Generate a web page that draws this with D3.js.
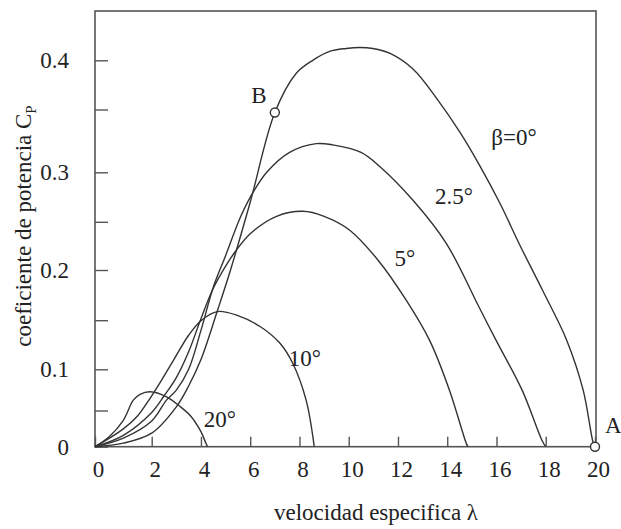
<!DOCTYPE html>
<html><head><meta charset="utf-8">
<script src="https://cdn.jsdelivr.net/npm/d3@7"></script>
<style>
body{margin:0;background:#fff;}
svg{display:block;}
text{font-family:"Liberation Serif","Times New Roman",serif;fill:#222;}
</style></head>
<body><svg id="c" width="621" height="529"></svg>
<script>
const xTicks = [0,2,4,6,8,10,12,14,16,18,20];
const yTicks = [0,0.1,0.2,0.3,0.4];
const yMinorTicks = [0.05,0.15,0.25,0.35];
const seriesNames = ["β=0°","2.5°","5°","10°","20°"];
const beta0 = [[0,0],[1,0.005],[2,0.019],[3,0.055],[3.5,0.08],[4,0.11],[4.67,0.16],[5.2,0.2],[6,0.27],[7,0.348],[7.87,0.387],[8.54,0.40],[9.22,0.409],[9.9,0.412],[10.45,0.413],[10.98,0.412],[11.68,0.407],[12.62,0.391],[13.62,0.36],[14.52,0.332],[15.33,0.305],[16.14,0.269],[16.95,0.226],[17.89,0.179],[18.85,0.13],[19.52,0.075],[19.93,0.005],[20,0]];
const beta25 = [[0,0],[1,0.012],[2,0.036],[2.6,0.063],[3,0.075],[3.5,0.1],[4,0.14],[4.5,0.183],[5,0.215],[5.6,0.255],[6,0.275],[6.67,0.3],[7.6,0.316],[8.68,0.323],[9.35,0.322],[10.5,0.316],[11.27,0.3045],[12.61,0.272],[13.96,0.228],[15.3,0.163],[15.98,0.13],[17.04,0.075],[17.86,0.008],[18,0]];
const beta5 = [[0,0],[1,0.016],[2,0.048],[2.5,0.068],[3,0.09],[3.5,0.118],[4,0.152],[4.5,0.182],[5.07,0.207],[5.33,0.217],[6,0.238],[7.07,0.256],[8.13,0.261],[9,0.256],[10.03,0.242],[11.2,0.21],[12.34,0.17],[13.28,0.13],[14.09,0.075],[14.77,0.005],[14.84,0]];
const beta10 = [[0,0],[1,0.025],[1.5,0.043],[1.9,0.063],[2.4,0.087],[2.9,0.11],[3.5,0.135],[4,0.15],[4.67,0.159],[5.5,0.155],[6.4,0.144],[7.2,0.127],[7.73,0.106],[8.27,0.063],[8.6,0]];
const beta20 = [[0,0],[0.5,0.014],[1,0.037],[1.35,0.063],[1.59,0.07],[1.94,0.073],[2.6,0.067],[3.17,0.055],[3.58,0.043],[4,0.021],[4.2,0.005],[4.27,0]];
const pointsAB = [{name:"A",x:20,y:0},{name:"B",x:7,y:0.348}];
const labelPos = [[16.71,0.322],[14.27,0.268],[12.28,0.204],[8.22,0.103],[4.77,0.028]];

const svg = d3.select("#c");
// the printed axes are slightly non-uniform; polylinear scales follow the printed ticks
const x = d3.scaleLinear().domain([0,2,20]).range([95,151.7,595]);
const y = d3.scaleLinear().domain([0,0.05,0.1,0.15,0.2,0.25,0.3,0.35,0.4,0.45])
  .range([446.7,411,369.3,320.7,270,222.3,172.3,110,60.3,11]);

// frame
svg.append("rect").attr("x",x(0)).attr("y",y(0.45)).attr("width",596-x(0)).attr("height",y(0)-y(0.45))
  .attr("fill","none").attr("stroke","#555").attr("stroke-width",1.6);

// ticks (inside)
const xa = svg.append("g").attr("transform",`translate(0,${y(0)})`)
  .call(d3.axisBottom(x).tickValues(xTicks).tickSizeInner(-10).tickSizeOuter(0).tickPadding(14).tickFormat(d3.format("d")));
xa.select(".domain").remove();
xa.selectAll("line").attr("stroke","#555").attr("stroke-width",1.4);
xa.selectAll("text").attr("font-size",23).attr("fill","#222").attr("font-family","Liberation Serif").attr("dx",3);

const ya = svg.append("g").attr("transform",`translate(${x(0)},0)`)
  .call(d3.axisLeft(y).tickValues(yTicks).tickSizeInner(-13).tickSizeOuter(0).tickPadding(26).tickFormat(d=>d===0?"0":d3.format(".1f")(d)));
ya.select(".domain").remove();
ya.selectAll("line").attr("stroke","#555").attr("stroke-width",1.4);
ya.selectAll("text").attr("font-size",23).attr("fill","#222").attr("font-family","Liberation Serif");
svg.append("g").selectAll("line").data(yMinorTicks).join("line")
  .attr("x1",x(0)).attr("x2",x(0)+13).attr("y1",d=>y(d)).attr("y2",d=>y(d))
  .attr("stroke","#555").attr("stroke-width",1.4);

// curves
const line = d3.line().x(d=>x(d[0])).y(d=>y(d[1])).curve(d3.curveCatmullRom.alpha(0.5));
const allSeries = [beta0,beta25,beta5,beta10,beta20];
svg.append("g").selectAll("path").data(allSeries).join("path")
  .attr("d",line).attr("fill","none").attr("stroke","#333").attr("stroke-width",1.4);

// series labels
svg.append("g").selectAll("text").data(seriesNames).join("text")
  .attr("x",(d,i)=>x(labelPos[i][0])).attr("y",(d,i)=>y(labelPos[i][1]))
  .attr("font-size",23).attr("text-anchor","middle").text(d=>d);

// points A, B
svg.append("g").selectAll("circle").data(pointsAB).join("circle")
  .attr("cx",d=>x(d.x)).attr("cy",d=>y(d.y)).attr("r",4.5)
  .attr("fill","#fff").attr("stroke","#333").attr("stroke-width",1.4);
svg.append("text").attr("x",x(7)-16).attr("y",y(0.348)-9).attr("font-size",23).attr("text-anchor","middle").text("B");
svg.append("text").attr("x",x(20)+10).attr("y",y(0)-14).attr("font-size",23).attr("text-anchor","start").text("A");

// axis titles
svg.append("text").attr("x",376).attr("y",520).attr("font-size",23).attr("text-anchor","middle").text("velocidad especifica λ");
const yt = svg.append("text").attr("transform","translate(31,226) rotate(-90)").attr("font-size",23).attr("text-anchor","middle");
yt.append("tspan").text("coeficiente de potencia C");
yt.append("tspan").attr("font-size",15).attr("dy",5).text("P");
</script></body></html>
